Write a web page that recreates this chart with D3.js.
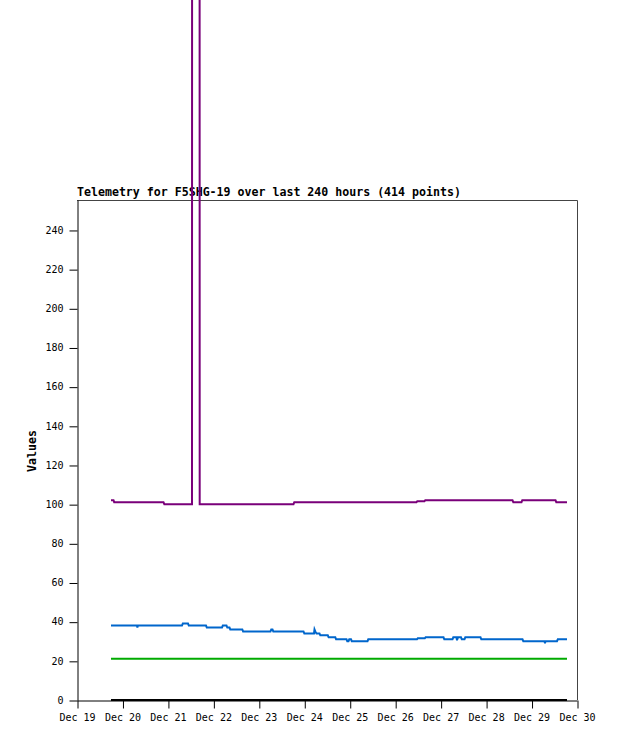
<!DOCTYPE html>
<html>
<head>
<meta charset="utf-8">
<script src="https://cdn.jsdelivr.net/npm/d3@7"></script>
<style>
  html, body { margin: 0; padding: 0; background: #fff; }
  svg { display: block; }
  text { font-family: "DejaVu Sans Mono", monospace; }
</style>
</head>
<body>
<svg id="chart" width="618" height="741"></svg>
<script>
const titleText = "Telemetry for F5SHG-19 over last 240 hours (414 points)";
const yAxisLabel = "Values";
const yTicks = [0, 20, 40, 60, 80, 100, 120, 140, 160, 180, 200, 220, 240];
const xDomain = ["2023-12-19 00:00", "2023-12-30 00:00"];

// Purple series (step changes)
const purpleTimes = ["12-19 17:57","12-19 19:16","12-19 19:38","12-20 21:40","12-20 22:06","12-21 12:43","12-21 12:46","12-21 16:44","12-21 16:47","12-23 18:19","12-23 18:44","12-26 11:16","12-26 11:41","12-26 15:29","12-26 15:54","12-28 13:56","12-28 14:22","12-28 18:42","12-28 19:07","12-29 12:39","12-29 13:04","12-29 18:43"];
const purpleValues = [102,102,101,101,100,100,400,400,100,100,101,101,101.5,101.5,102,102,101,101,102,102,101,101];

// Blue series
const blueTimes = ["12-19 17:57","12-20 07:41","12-20 07:53","12-20 08:10","12-21 07:26","12-21 07:52","12-21 10:37","12-21 11:02","12-21 20:07","12-21 20:32","12-22 04:34","12-22 04:59","12-22 06:56","12-22 07:22","12-22 08:31","12-22 08:56","12-22 15:17","12-22 15:42","12-23 06:10","12-23 06:35","12-23 07:13","12-23 07:39","12-23 23:35","12-24 00:01","12-24 05:08","12-24 05:24","12-24 05:49","12-24 06:27","12-24 08:02","12-24 08:28","12-24 12:25","12-24 12:51","12-24 16:23","12-24 16:48","12-24 22:18","12-24 22:43","12-24 23:21","12-24 23:46","12-25 00:40","12-25 01:05","12-25 09:23","12-25 09:48","12-26 11:31","12-26 11:56","12-26 15:38","12-26 16:04","12-27 01:31","12-27 01:56","12-27 06:16","12-27 06:41","12-27 08:23","12-27 08:38","12-27 09:10","12-27 10:45","12-27 11:10","12-27 12:36","12-27 13:01","12-27 21:03","12-27 21:28","12-28 19:13","12-28 19:39","12-29 06:50","12-29 07:06","12-29 07:22","12-29 13:26","12-29 13:52","12-29 18:43"];
const blueValues = [38,38,37,38,38,39,39,38,38,37,37,38,38,37,37,36,36,35,35,36,36,35,35,34,34,36,35,34,34,33,33,32,32,31,31,30,30,31,31,30,30,31,31,31.5,31.5,32,32,31,31,32,32,30.5,32,32,31,31,32,32,31,31,30,30,29,30,30,31,31];

// Green series
const greenTimes = ["12-19 17:57","12-29 18:43"];
const greenValues = [21,21];

// Black series
const blackTimes = ["12-19 17:57","12-29 18:43"];
const blackValues = [0,0];

const seriesColors = ["#7a007a", "#0066cc", "#00aa00", "#000000"];

const parseFull = d3.timeParse("%Y-%m-%d %H:%M");
const parseShort = s => parseFull("2023-" + s);

const svg = d3.select("#chart");
const M = { left: 77, right: 577, top: 200, bottom: 700 };

const x = d3.scaleTime()
  .domain(xDomain.map(parseFull))
  .range([M.left, M.right]);
const y = d3.scaleLinear()
  .domain([0, 255.3])
  .range([M.bottom, M.top]);

// frame (top + right)
svg.append("path")
  .attr("d", `M${M.left},${M.top + 0.5}H${M.right + 0.5}V${M.bottom}`)
  .attr("fill", "none")
  .attr("stroke", "#444")
  .attr("stroke-width", 1);

// title
svg.append("text")
  .attr("x", M.left)
  .attr("y", 196)
  .attr("font-size", "11.6px")
  .attr("font-weight", "bold")
  .attr("fill", "#000")
  .text(titleText);

// y label
svg.append("text")
  .attr("transform", `translate(36, ${(M.top + M.bottom) / 2 + 1}) rotate(-90)`)
  .attr("text-anchor", "middle")
  .attr("font-size", "11.6px")
  .attr("font-weight", "bold")
  .attr("fill", "#000")
  .text(yAxisLabel);

// axes
const yAxis = d3.axisLeft(y).tickValues(yTicks).tickSize(8).tickPadding(6).tickSizeOuter(0);
const gy = svg.append("g").attr("transform", `translate(${M.left + 0.5},0)`).call(yAxis);
const xAxis = d3.axisBottom(x).ticks(d3.timeDay.every(1)).tickFormat(d3.timeFormat("%b %d")).tickSize(8).tickPadding(5).tickSizeOuter(0);
const gx = svg.append("g").attr("transform", `translate(0,${M.bottom + 0.5})`).call(xAxis);

[gx, gy].forEach(g => {
  g.selectAll("text").attr("font-size", "10px").attr("fill", "#000")
    .attr("font-family", "'DejaVu Sans Mono', monospace");
  g.selectAll("line").attr("stroke", "#000");
  g.select(".domain").attr("stroke", "#000");
});
gx.selectAll("line").attr("transform", "translate(0.5,0)");
gy.selectAll("line").attr("transform", "translate(0,0.5)");

// series
const line = d3.line().x(d => x(d.t)).y(d => y(d.v)).curve(d3.curveLinear);
const series = [
  [purpleTimes, purpleValues],
  [blueTimes, blueValues],
  [greenTimes, greenValues],
  [blackTimes, blackValues]
];
series.forEach(([ts, vs], i) => {
  const data = ts.map((t, k) => ({ t: parseShort(t), v: vs[k] }));
  svg.append("path")
    .datum(data)
    .attr("fill", "none")
    .attr("stroke", seriesColors[i])
    .attr("stroke-width", 2)
    .attr("stroke-linejoin", "miter")
    .attr("d", line);
});
</script>
</body>
</html>
